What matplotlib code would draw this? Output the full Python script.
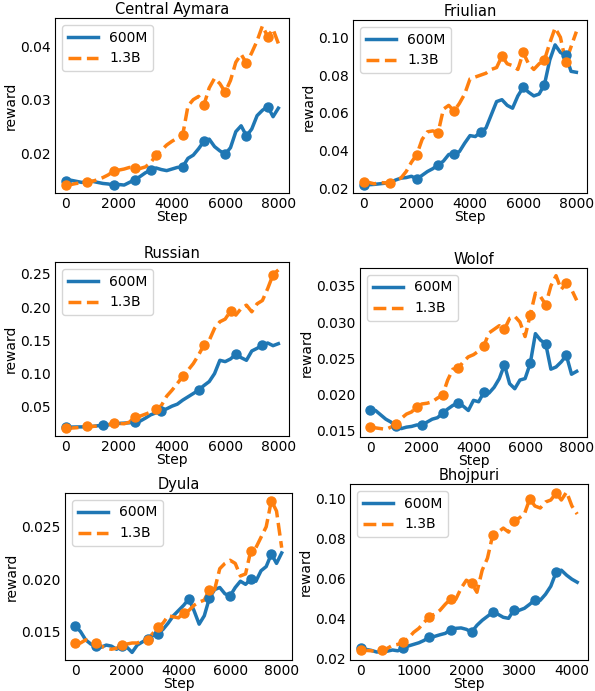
import numpy as np
import matplotlib
matplotlib.use("Agg")
import matplotlib.pyplot as plt

# reward curves, steps every 200 (Bhojpuri every 100)
steps_8k = np.arange(0, 8001, 200)
steps_4k = np.arange(0, 4101, 100)

aymara_600m = [0.0147, 0.0149, 0.0147, 0.0145, 0.0146, 0.0147, 0.0145, 0.0143, 0.0142, 0.0140,
               0.0141, 0.0140, 0.0145, 0.0150, 0.0156, 0.0163, 0.0168, 0.0172, 0.0169, 0.0167,
               0.0170, 0.0173, 0.0174, 0.0190, 0.0196, 0.0208, 0.0222, 0.0226, 0.0212, 0.0204,
               0.0198, 0.0210, 0.0240, 0.0251, 0.0232, 0.0245, 0.0270, 0.0280, 0.0287, 0.0268,
               0.0284]
aymara_13b = [0.0140, 0.0141, 0.0143, 0.0144, 0.0145, 0.0147, 0.0150, 0.0154, 0.0159, 0.0166,
              0.0168, 0.0170, 0.0173, 0.0172, 0.0171, 0.0174, 0.0182, 0.0196, 0.0205, 0.0215,
              0.0222, 0.0228, 0.0233, 0.0288, 0.0300, 0.0306, 0.0290, 0.0322, 0.0340, 0.0330,
              0.0314, 0.0336, 0.0370, 0.0385, 0.0368, 0.0388, 0.0410, 0.0438, 0.0418, 0.0432,
              0.0405]

friulian_600m = [0.0218, 0.0220, 0.0222, 0.0225, 0.0228, 0.0232, 0.0245, 0.0255, 0.0258, 0.0265,
                 0.0250, 0.0270, 0.0290, 0.0305, 0.0325, 0.0345, 0.0380, 0.0385, 0.0395, 0.0440,
                 0.0480, 0.0475, 0.0500, 0.0520, 0.0590, 0.0660, 0.0670, 0.0640, 0.0625, 0.0690,
                 0.0735, 0.0710, 0.0690, 0.0700, 0.0750, 0.0880, 0.0960, 0.0920, 0.0905, 0.0820,
                 0.0815]
friulian_13b = [0.0235, 0.0232, 0.0225, 0.0232, 0.0230, 0.0228, 0.0245, 0.0255, 0.0290, 0.0340,
                0.0380, 0.0460, 0.0500, 0.0505, 0.0495, 0.0620, 0.0640, 0.0610, 0.0650, 0.0700,
                0.0780, 0.0790, 0.0800, 0.0810, 0.0830, 0.0840, 0.0900, 0.0860, 0.0850, 0.0830,
                0.0920, 0.0860, 0.0830, 0.0860, 0.0880, 0.0970, 0.1050, 0.1000, 0.0870, 0.0950,
                0.1030]

russian_600m = [0.0195, 0.0195, 0.0197, 0.0198, 0.0200, 0.0205, 0.0215, 0.0220, 0.0230, 0.0240,
                0.0250, 0.0255, 0.0260, 0.0275, 0.0285, 0.0330, 0.0380, 0.0410, 0.0440, 0.0470,
                0.0510, 0.0540, 0.0600, 0.0650, 0.0700, 0.0750, 0.0820, 0.0880, 0.1000, 0.1200,
                0.1180, 0.1220, 0.1290, 0.1240, 0.1200, 0.1340, 0.1380, 0.1430, 0.1460, 0.1420,
                0.1450]
russian_13b = [0.0180, 0.0180, 0.0185, 0.0195, 0.0205, 0.0205, 0.0210, 0.0215, 0.0230, 0.0256,
               0.0250, 0.0245, 0.0270, 0.0348, 0.0360, 0.0390, 0.0420, 0.0460, 0.0520, 0.0660,
               0.0750, 0.0850, 0.0957, 0.1050, 0.1150, 0.1280, 0.1430, 0.1500, 0.1680, 0.1780,
               0.1820, 0.1940, 0.1880, 0.1980, 0.2030, 0.1930, 0.2050, 0.2100, 0.2280, 0.2490,
               0.2560]

wolof_600m = [0.0179, 0.0178, 0.0172, 0.0166, 0.0162, 0.0156, 0.0153, 0.0155, 0.0156, 0.0158,
              0.0158, 0.0162, 0.0166, 0.0168, 0.0174, 0.0180, 0.0185, 0.0188, 0.0184, 0.0178,
              0.0192, 0.0190, 0.0203, 0.0202, 0.0210, 0.0222, 0.0241, 0.0215, 0.0208, 0.0220,
              0.0222, 0.0243, 0.0284, 0.0275, 0.0270, 0.0235, 0.0238, 0.0245, 0.0254, 0.0228,
              0.0232]
wolof_13b = [0.0155, 0.0154, 0.0153, 0.0152, 0.0155, 0.0160, 0.0167, 0.0173, 0.0176, 0.0183,
             0.0187, 0.0188, 0.0190, 0.0195, 0.0199, 0.0220, 0.0235, 0.0236, 0.0245, 0.0252,
             0.0255, 0.0260, 0.0267, 0.0285, 0.0290, 0.0295, 0.0290, 0.0305, 0.0308, 0.0300,
             0.0280, 0.0310, 0.0340, 0.0335, 0.0324, 0.0350, 0.0364, 0.0345, 0.0354, 0.0345,
             0.0330]

dyula_600m = [0.0155, 0.0150, 0.0142, 0.0138, 0.0136, 0.0135, 0.0137, 0.0136, 0.0133, 0.0136,
              0.0135, 0.0130, 0.0137, 0.0140, 0.0143, 0.0146, 0.0148, 0.0152, 0.0158, 0.0165,
              0.0170, 0.0175, 0.0181, 0.0170, 0.0157, 0.0165, 0.0182, 0.0190, 0.0192, 0.0186,
              0.0184, 0.0192, 0.0198, 0.0195, 0.0200, 0.0198, 0.0208, 0.0212, 0.0224, 0.0215,
              0.0225]
dyula_13b = [0.0139, 0.0139, 0.0142, 0.0141, 0.0139, 0.0136, 0.0134, 0.0133, 0.0134, 0.0137,
             0.0138, 0.0139, 0.0139, 0.0141, 0.0142, 0.0148, 0.0154, 0.0158, 0.0165, 0.0164,
             0.0163, 0.0168, 0.0170, 0.0175, 0.0178, 0.0180, 0.0190, 0.0190, 0.0210, 0.0215,
             0.0218, 0.0215, 0.0203, 0.0205, 0.0227, 0.0230, 0.0240, 0.0250, 0.0275, 0.0265,
             0.0230]

bhojpuri_600m = [0.0251, 0.0245, 0.0240, 0.0232, 0.0233, 0.0236, 0.0242, 0.0238, 0.0250, 0.0262,
                 0.0270, 0.0278, 0.0290, 0.0309, 0.0310, 0.0318, 0.0325, 0.0343, 0.0350, 0.0352,
                 0.0345, 0.0331, 0.0365, 0.0390, 0.0410, 0.0430, 0.0420, 0.0405, 0.0400, 0.0442,
                 0.0440, 0.0450, 0.0470, 0.0493, 0.0490, 0.0520, 0.0560, 0.0629, 0.0640, 0.0615,
                 0.0595, 0.0580]
bhojpuri_13b = [0.0243, 0.0240, 0.0238, 0.0235, 0.0241, 0.0250, 0.0265, 0.0270, 0.0280, 0.0300,
                0.0330, 0.0350, 0.0380, 0.0408, 0.0420, 0.0440, 0.0470, 0.0496, 0.0495, 0.0550,
                0.0590, 0.0574, 0.0530, 0.0640, 0.0700, 0.0816, 0.0830, 0.0850, 0.0830, 0.0884,
                0.0900, 0.0920, 0.0995, 0.0960, 0.0950, 0.0980, 0.0990, 0.1024, 0.0990, 0.1030,
                0.0960, 0.0920]

# steps where the round markers sit
marks = {
    "Central Aymara": ([0, 1800, 2600, 3200, 4400, 5200, 6000, 6800, 7600],
                       [0, 800, 1800, 2600, 3400, 4400, 5200, 6000, 6800, 7600]),
    "Friulian": ([0, 2000, 2800, 3400, 4400, 6000, 6800, 7600],
                 [0, 1000, 2000, 2800, 3400, 5200, 6000, 6800, 7600]),
    "Russian": ([0, 1400, 2600, 3600, 5000, 6400, 7400],
                [0, 800, 1800, 2600, 3400, 4400, 5200, 6200, 7800]),
    "Wolof": ([0, 1000, 2000, 2800, 3400, 4400, 5200, 6200, 6800, 7600],
              [0, 1000, 1800, 2800, 3400, 4400, 5200, 6200, 6800, 7600]),
    "Dyula": ([0, 800, 1800, 2800, 3200, 4400, 5200, 6000, 6800, 7600],
              [0, 800, 1800, 2800, 3200, 4200, 5200, 6800, 7600]),
    "Bhojpuri": ([0, 800, 1300, 1700, 2100, 2500, 2900, 3300, 3700],
                 [0, 400, 800, 1300, 1700, 2100, 2500, 2900, 3200, 3700]),
}

panels = [
    ("Central Aymara", steps_8k, aymara_600m, aymara_13b),
    ("Friulian", steps_8k, friulian_600m, friulian_13b),
    ("Russian", steps_8k, russian_600m, russian_13b),
    ("Wolof", steps_8k, wolof_600m, wolof_13b),
    ("Dyula", steps_8k, dyula_600m, dyula_13b),
    ("Bhojpuri", steps_4k, bhojpuri_600m, bhojpuri_13b),
]

# axes boxes in pixels: left, top, right, bottom
boxes = [(55, 18, 289, 193), (353, 20, 587, 193),
         (55, 262, 289, 436), (360, 268, 587, 437),
         (65, 493, 292, 660), (350, 484, 588, 660)]

W, H = 595, 691
fig = plt.figure(figsize=(W / 100, H / 100), dpi=100)

for (name, x, small, big), (l, t, r, b) in zip(panels, boxes):
    ax = fig.add_axes([l / W, 1 - b / H, (r - l) / W, (b - t) / H])
    m_small = np.searchsorted(x, marks[name][0])
    m_big = np.searchsorted(x, marks[name][1])
    ax.plot(x, small, color="#1f77b4", lw=2.5, label="600M")
    ax.plot(x, big, color="#ff7f0e", lw=2.5, ls="--", label="1.3B")
    ax.plot(x[m_small], np.array(small)[m_small], "o", color="#1f77b4", ms=6.5)
    ax.plot(x[m_big], np.array(big)[m_big], "o", color="#ff7f0e", ms=6.5)
    ax.set_title(name, fontsize=10.5, pad=3)
    ax.set_xlabel("Step", fontsize=10, labelpad=-1)
    ax.set_ylabel("reward", fontsize=10, labelpad=2)
    ax.tick_params(length=0, labelsize=10, pad=3)
    ax.legend(loc="upper left", fontsize=10, handlelength=2.2)

fig.savefig("out.png", dpi=100)
